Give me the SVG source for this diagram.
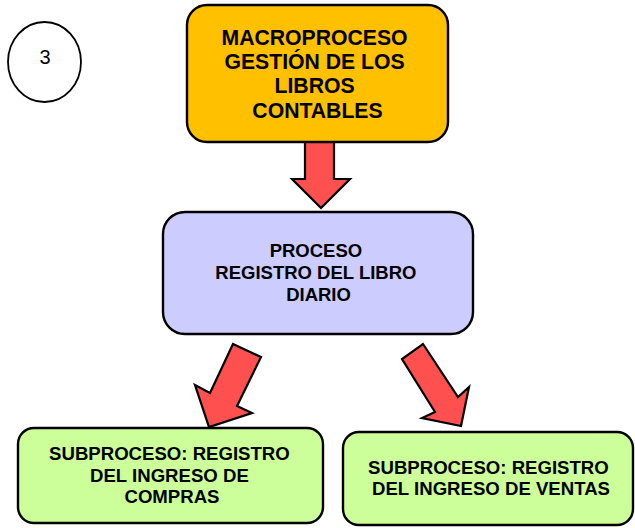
<svg xmlns="http://www.w3.org/2000/svg" width="635" height="528" viewBox="0 0 635 528">
<style>
.box{stroke:#000;stroke-width:2.4}
.t{font-family:"Liberation Sans",Arial,sans-serif;font-weight:bold;text-anchor:middle;fill:#000}
.arrow{fill:#FF5050;stroke:#000;stroke-width:2.2;stroke-linejoin:miter}
</style>
<rect width="635" height="528" fill="#fff"/>
<g id="badge">
<ellipse cx="44.5" cy="62" rx="36.5" ry="40" fill="#fff" stroke="#000" stroke-width="1.8"/>
<text x="45" y="64" font-family="Liberation Sans, Arial, sans-serif" font-size="20" text-anchor="middle">3</text>
</g>
<g id="connectors">
<polygon class="arrow" points="305,142 334,142 334,179 350,179 321,208 292,179 305,179"/>
<polygon class="arrow" points="233,344 261,357 237,406 252,413 209,427 195,385 210,393"/>
<polygon class="arrow" points="423,344 458,397 469,387 461,426 422,418 435,412 402,359"/>
</g>
<g id="macroproceso">
<rect class="box" x="187" y="5" width="261" height="137" rx="20" fill="#FFC000"/>
<text class="t" font-size="21.2">
<tspan x="317.5" y="45">MACROPROCESO</tspan>
<tspan x="317.5" y="69">GESTIÓN DE LOS</tspan>
<tspan x="317.5" y="93">LIBROS</tspan>
<tspan x="317.5" y="118">CONTABLES</tspan>
</text>
</g>
<g id="proceso">
<rect class="box" x="163" y="212" width="310" height="122" rx="22" fill="#CCCCFF"/>
<text class="t" font-size="18.5">
<tspan x="318.5" y="257">PROCESO</tspan>
<tspan x="318.5" y="279">REGISTRO DEL LIBRO</tspan>
<tspan x="318.5" y="301">DIARIO</tspan>
</text>
</g>
<g id="subproceso-compras">
<rect class="box" x="18" y="428" width="305" height="95" rx="16" fill="#CCFF99"/>
<text class="t" font-size="18.6">
<tspan x="172" y="460">SUBPROCESO: REGISTRO</tspan>
<tspan x="172" y="482">DEL INGRESO DE</tspan>
<tspan x="172" y="503">COMPRAS</tspan>
</text>
</g>
<g id="subproceso-ventas">
<rect class="box" x="343" y="432" width="290" height="93" rx="16" fill="#CCFF99"/>
<text class="t" font-size="18.6">
<tspan x="491" y="474">SUBPROCESO: REGISTRO</tspan>
<tspan x="491" y="495">DEL INGRESO DE VENTAS</tspan>
</text>
</g>
</svg>
